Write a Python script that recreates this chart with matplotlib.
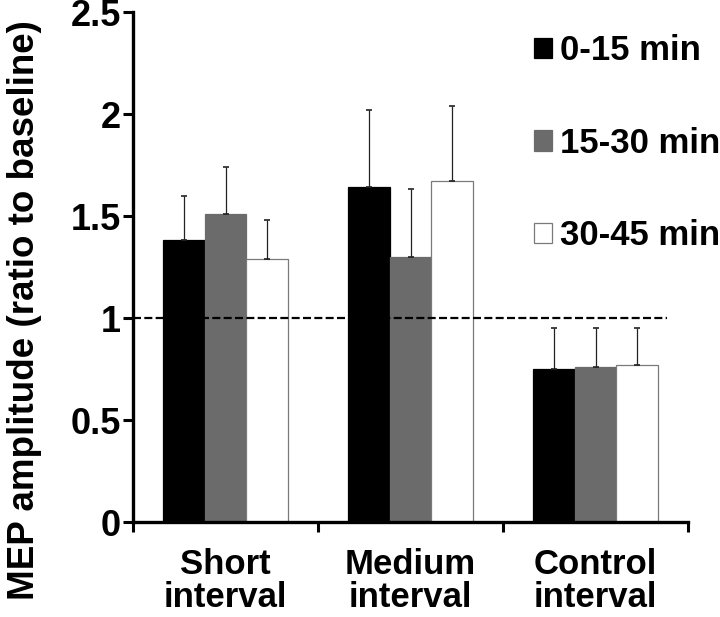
import matplotlib
matplotlib.use("Agg")
import matplotlib.pyplot as plt
from matplotlib.patches import Patch
import numpy as np

plt.rcParams['font.family'] = ['Liberation Sans', 'DejaVu Sans']
plt.rcParams['font.weight'] = 'bold'

categories = ["Short\ninterval", "Medium\ninterval", "Control\ninterval"]
series_names = ["0-15 min", "15-30 min", "30-45 min"]
mean_0_15 = [1.38, 1.64, 0.75]
mean_15_30 = [1.51, 1.30, 0.76]
mean_30_45 = [1.29, 1.67, 0.77]
err_0_15 = [0.22, 0.38, 0.20]
err_15_30 = [0.23, 0.33, 0.19]
err_30_45 = [0.19, 0.37, 0.18]
yticks = [0, 0.5, 1, 1.5, 2, 2.5]
ytick_labels = ["0", "0.5", "1", "1.5", "2", "2.5"]
baseline = 1.0

means = [mean_0_15, mean_15_30, mean_30_45]
errs = [err_0_15, err_15_30, err_30_45]
fills = ["#000000", "#6b6b6b", "#ffffff"]
edges = ["#000000", "#6b6b6b", "#7a7a7a"]

fig = plt.figure(figsize=(7.2, 6.17), dpi=100)
ax = fig.add_axes([133/720, 1 - 522/617, (688-133)/720, (522-12)/617])

x = np.arange(len(categories))
w = 0.2238
for i in range(3):
    ax.bar(x + (i - 1) * w, means[i], width=w, color=fills[i],
           edgecolor=edges[i], linewidth=0.9, zorder=2)
    ax.errorbar(x + (i - 1) * w, means[i], yerr=[np.zeros(3), errs[i]],
                fmt='none', ecolor='#222222', elinewidth=0.9, capsize=2.3,
                capthick=1.2, zorder=3)

ax.axhline(baseline, xmin=0, xmax=(667-133)/(688-133), color='black',
           linewidth=1.6, linestyle=(0, (3.6, 1.5)), zorder=4)

ax.set_xlim(-0.5, 2.5)
ax.set_ylim(0, 2.5)
ax.set_yticks(yticks)
ax.set_yticklabels(ytick_labels, fontsize=26, fontweight='bold')
ax.tick_params(axis='y', length=7, width=2.2, pad=1.5)

ax.set_xticks([-0.5, 0.5, 1.5, 2.5])
ax.set_xticklabels([])
ax.tick_params(axis='x', which='major', length=7, width=2.2, direction='out')
ax.set_xticks(x, minor=True)
ax.set_xticklabels(categories, minor=True, fontsize=25, fontweight='bold',
                   linespacing=1.0)
ax.tick_params(axis='x', which='minor', length=0, pad=19)

for s in ['top', 'right']:
    ax.spines[s].set_visible(False)
for s in ['left', 'bottom']:
    ax.spines[s].set_linewidth(2.4)

ax.set_ylabel("MEP amplitude (ratio to baseline)", fontsize=26.5,
              fontweight='bold')
ax.yaxis.set_label_coords((42 - 133) / 555, (522 - 310) / 510)

handles = [Patch(facecolor=fills[i], edgecolor=edges[i] if i == 2 else fills[i],
                 linewidth=0.9) for i in range(3)]
ax.legend(handles, series_names, loc='upper left',
          bbox_to_anchor=(534/720, 1 - 34/617), bbox_transform=fig.transFigure,
          frameon=False, prop={'weight': 'bold', 'size': 25},
          handlelength=0.52, handleheight=0.52, handletextpad=0.23,
          labelspacing=1.72, borderpad=0, borderaxespad=0)

fig.savefig("out.png", dpi=100)
